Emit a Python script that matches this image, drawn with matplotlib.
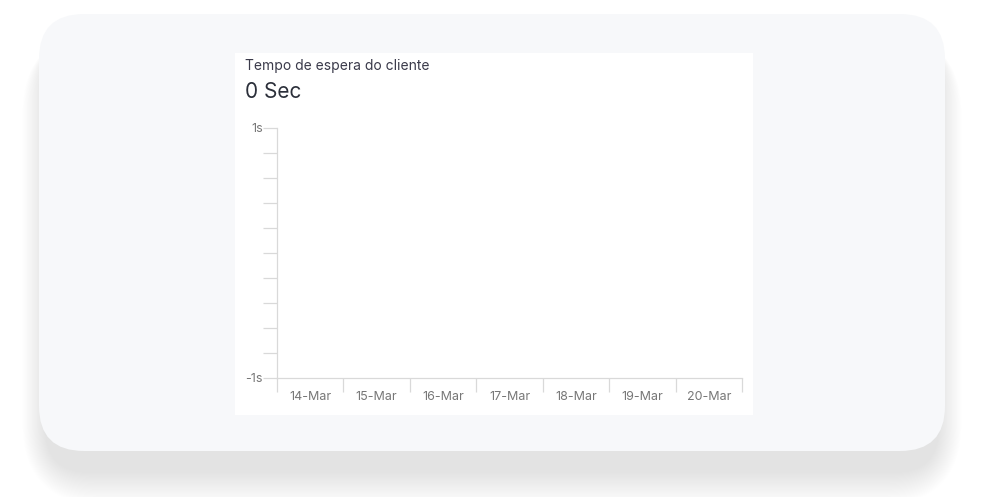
import numpy as np
import matplotlib
matplotlib.use("Agg")
import matplotlib.pyplot as plt
from matplotlib.patches import FancyBboxPatch, Rectangle

# ---- data ----
categories = ["14-Mar", "15-Mar", "16-Mar", "17-Mar", "18-Mar", "19-Mar", "20-Mar"]
wait_seconds = [np.nan, np.nan, np.nan, np.nan, np.nan, np.nan, np.nan]
y_min, y_max = -1, 1
y_tick_labels = {-1: "-1s", 1: "1s"}
title = "Tempo de espera do cliente"
headline = "0 Sec"

plt.rcParams['font.family'] = ['Inter', 'DejaVu Sans']

W, H = 989, 497
fig = plt.figure(figsize=(W / 100, H / 100), dpi=100)
fig.patch.set_facecolor("white")

# background axes in pixel coordinates
bg = fig.add_axes([0, 0, 1, 1])
bg.set_xlim(0, W)
bg.set_ylim(H, 0)
bg.axis("off")

# soft shadow
card_x0, card_y0, card_x1, card_y1 = 39, 14, 945, 451
n = 28
for i in range(n):
    g = i * 1.4
    bg.add_patch(FancyBboxPatch((card_x0 - g * 0.6 + 6, card_y0 + 22 - g * 0.1),
                                (card_x1 - card_x0) + g * 1.2 - 12,
                                (card_y1 - card_y0) + g * 0.95,
                                boxstyle="round,pad=0,rounding_size=%f" % (45 + g),
                                facecolor="black", edgecolor="none", alpha=0.0045))
# card
bg.add_patch(FancyBboxPatch((card_x0, card_y0), card_x1 - card_x0, card_y1 - card_y0,
                            boxstyle="round,pad=0,rounding_size=45",
                            facecolor="#f7f8fa", edgecolor="none"))
# white panel
bg.add_patch(Rectangle((235, 53), 518, 362, facecolor="white", edgecolor="none"))

bg.text(245, 66, title, fontsize=10, color="#3a3a4a", va="center", ha="left")
bg.text(245, 92, headline, fontsize=15, color="#2b2f3a", va="center", ha="left")

# chart axes
ax_l, ax_r, ax_t, ax_b = 277, 742, 128, 378
ax = fig.add_axes([ax_l / W, (H - ax_b) / H, (ax_r - ax_l) / W, (ax_b - ax_t) / H])
ax.set_facecolor("none")
x = np.arange(len(categories))
ax.plot(x, wait_seconds, color="#4e79a7")
ax.set_xlim(-0.5, len(categories) - 0.5)
ax.set_ylim(y_min, y_max)

for s in ["top", "right"]:
    ax.spines[s].set_visible(False)
for s in ["left", "bottom"]:
    ax.spines[s].set_color("#d9d9d9")
    ax.spines[s].set_linewidth(0.9)

yt = np.linspace(y_min, y_max, 11)
ax.set_yticks(yt)
ax.set_yticklabels([y_tick_labels.get(int(round(v)), "") if abs(v - round(v)) < 1e-9 and round(v) != 0 else "" for v in yt])
ax.tick_params(axis="y", length=10, width=0.9, color="#d9d9d9", labelcolor="#777777",
               labelsize=9, pad=0)

ax.set_xticks(np.arange(len(categories) + 1) - 0.5)
ax.set_xticklabels([])
ax.set_xticks(x, minor=True)
ax.set_xticklabels(categories, minor=True)
ax.tick_params(axis="x", which="major", length=10, width=0.9, color="#d9d9d9")
ax.tick_params(axis="x", which="minor", length=0, labelcolor="#777777", labelsize=9, pad=9)

fig.savefig("out.png", dpi=100, facecolor="white")
